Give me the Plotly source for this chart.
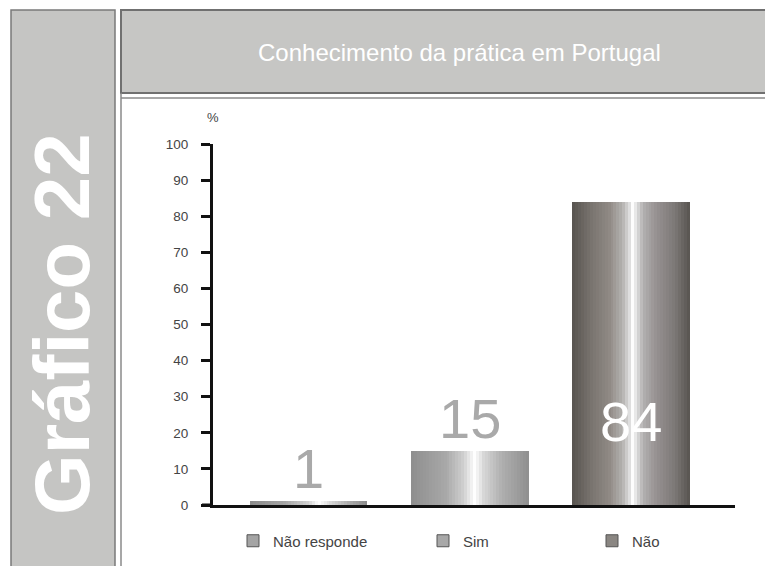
import plotly.graph_objects as go

# ---------------- data ----------------
categories = ["Não responde", "Sim", "Não"]
values = [1, 15, 84]
value_labels = ["1", "15", "84"]
y_ticks = list(range(0, 101, 10))
title_text = "Conhecimento da prática em Portugal"
side_text = "Gráfico 22"
unit_text = "%"

# ---------------- geometry helpers ----------------
# the page body adds an 8px offset, so the figure is drawn 8px smaller
OFF = 8
W, H = 773 - OFF, 566 - OFF
ML = 213 - OFF
MT = 144 - OFF
MR = 773 - 735
MB = 566 - 505
PW = W - ML - MR
PH = H - MT - MB


def px(x):
    return (x - OFF - ML) / PW


def py(y):
    return (H - MB - (y - OFF)) / PH


FONT = "Liberation Sans, Arial, sans-serif"

# gradient styles (fraction across bar width, colour)
grad = {
    "Não responde": [(0, "#8a8a8a"), (0.3, "#a6a6a6"), (0.5, "#d2d2d2"), (0.58, "#ffffff"),
                     (0.68, "#d8d8d8"), (0.85, "#a8a8a8"), (1, "#8a8a8a")],
    "Sim": [(0, "#8e8e8e"), (0.3, "#a9a9a9"), (0.45, "#d0d0d0"), (0.54, "#ffffff"),
            (0.61, "#d8d8d8"), (0.78, "#aeaeae"), (1, "#8f8f8f")],
    "Não": [(0, "#57534f"), (0.15, "#77726d"), (0.32, "#918b86"), (0.43, "#b4b2b0"),
            (0.49, "#e0e0e0"), (0.51, "#ffffff"), (0.54, "#e6e6e6"), (0.6, "#b2b0b0"),
            (0.72, "#969191"), (0.87, "#7d7977"), (1, "#57534f")],
}


def hex2rgb(h):
    h = h.lstrip("#")
    return tuple(int(h[i:i + 2], 16) for i in (0, 2, 4))


def interp(stops, t):
    for (t0, c0), (t1, c1) in zip(stops[:-1], stops[1:]):
        if t0 <= t <= t1:
            f = 0 if t1 == t0 else (t - t0) / (t1 - t0)
            a, b = hex2rgb(c0), hex2rgb(c1)
            r = [round(a[i] + (b[i] - a[i]) * f) for i in range(3)]
            return "rgb(%d,%d,%d)" % tuple(r)
    return stops[-1][1]


fig = go.Figure()

BW = 0.727
N = 40
step = BW / N
for cat, val in zip(categories, values):
    for k in range(N):
        t = (k + 0.5) / N
        fig.add_trace(go.Bar(
            x=[cat], y=[val],
            offset=-BW / 2 + k * step,
            width=step * (1.8 if k < N - 1 else 1.0),
            marker=dict(color=interp(grad[cat], t), line=dict(width=0)),
            showlegend=False, hoverinfo="skip",
        ))

legend_ids = ["legend", "legend2", "legend3"]
legend_colors = ["#a4a4a4", "#a8a8a8", "#8a8682"]
for cat, lid, col in zip(categories, legend_ids, legend_colors):
    fig.add_trace(go.Bar(
        x=[None], y=[None], name=cat, legend=lid,
        marker=dict(color=col, line=dict(color="#555555", width=1)),
        showlegend=True, hoverinfo="skip",
    ))

# value labels
label_colors = ["#a9a9a9", "#a9a9a9", "#ffffff"]
for i, (cat, val, lab) in enumerate(zip(categories, values, value_labels)):
    inside = val > 50
    fig.add_annotation(
        x=cat, y=0 if inside else val, xref="x", yref="y",
        text=lab, showarrow=False, xanchor="center", yanchor="bottom",
        yshift=50 if inside else -1,
        font=dict(family=FONT, size=56, color=label_colors[i]),
    )

# decorative panels
shapes = [
    dict(type="rect", xref="paper", yref="paper", x0=px(11), x1=px(115), y0=py(10), y1=py(590),
         fillcolor="#c5c5c3", line=dict(color="#7a7a7a", width=1.5), layer="below"),
    dict(type="rect", xref="paper", yref="paper", x0=px(121), x1=px(790), y0=py(10), y1=py(93),
         fillcolor="#c6c6c4", line=dict(color="#707070", width=2), layer="below"),
    dict(type="line", xref="paper", yref="paper", x0=px(121), x1=px(790), y0=py(98), y1=py(98),
         line=dict(color="#8a8a8a", width=1.5)),
    dict(type="line", xref="paper", yref="paper", x0=px(121), x1=px(121), y0=py(93), y1=py(590),
         line=dict(color="#8a8a8a", width=1.5)),
    # x-axis line extension to the left of the y axis
    dict(type="line", xref="paper", yref="paper", x0=px(202), x1=0, y0=0, y1=0,
         line=dict(color="#111111", width=3)),
]

fig.add_annotation(x=px(459), y=py(53), xref="paper", yref="paper", text=title_text,
                   xanchor="center", yanchor="middle",
                   showarrow=False, font=dict(family=FONT, size=24, color="#ffffff"))
fig.add_annotation(x=px(62), y=py(324), xref="paper", yref="paper", text="<b>%s</b>" % side_text,
                   textangle=-90, showarrow=False, xanchor="center", yanchor="middle",
                   font=dict(family=FONT, size=78, color="#ffffff"))
fig.add_annotation(x=px(213), y=py(117), xref="paper", yref="paper", text=unit_text,
                   xanchor="center", yanchor="middle",
                   showarrow=False, font=dict(family=FONT, size=13, color="#444444"))

legend_x = [233, 423, 592]
legend_layouts = {}
for lid, lx in zip(legend_ids, legend_x):
    legend_layouts[lid] = dict(
        x=px(lx), y=py(541), xanchor="left", yanchor="middle", orientation="h",
        bgcolor="rgba(0,0,0,0)", font=dict(family=FONT, size=15, color="#444444"),
    )

fig.update_layout(
    width=W, height=H,
    margin=dict(l=ML, r=MR, t=MT, b=MB, autoexpand=False),
    paper_bgcolor="#ffffff", plot_bgcolor="#ffffff",
    barmode="overlay", bargap=0,
    shapes=shapes,
    showlegend=True,
    **legend_layouts,
    xaxis=dict(
        type="category", categoryorder="array", categoryarray=categories,
        range=[-0.596, 2.646], showticklabels=False, ticks="",
        showline=True, linecolor="#111111", linewidth=3, showgrid=False, zeroline=False,
        fixedrange=True,
    ),
    yaxis=dict(
        range=[0, 100], tickvals=y_ticks, ticks="outside", ticklen=9, tickwidth=3,
        tickcolor="#111111", showline=True, linecolor="#111111", linewidth=3,
        showgrid=False, zeroline=False, ticklabelstandoff=10,
        tickfont=dict(family=FONT, size=13.5, color="#444444"),
        fixedrange=True,
    ),
)

fig.write_html("out.html")
